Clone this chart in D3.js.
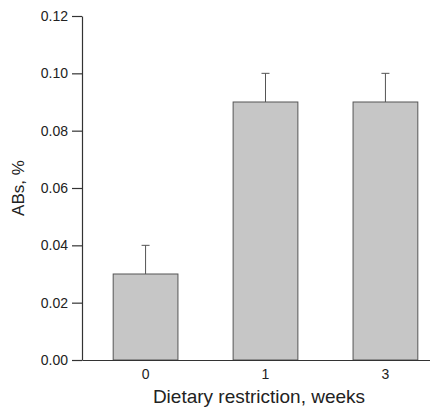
<!DOCTYPE html>
<html>
<head>
<meta charset="utf-8">
<script src="https://cdn.jsdelivr.net/npm/d3@7"></script>
<style>
  body { margin: 0; background: #fff; }
  text { font-family: "Liberation Sans Narrow", "Arial Narrow", "Liberation Sans", sans-serif; fill: #222; }
</style>
</head>
<body>
<div id="my_dataviz"></div>
<script>
// data
var weeks = ["0", "1", "3"];
var abs = [0.03, 0.09, 0.09];
var absErr = [0.01, 0.01, 0.01];
var yTicks = [0, 0.02, 0.04, 0.06, 0.08, 0.10, 0.12];

var data = weeks.map(function(w, i) { return {week: w, value: abs[i], err: absErr[i]}; });

// set the dimensions and margins of the graph
var margin = {top: 16, right: 0, bottom: 49, left: 82},
    width = 430 - margin.left - margin.right,
    height = 409 - margin.top - margin.bottom;

var svg = d3.select("#my_dataviz")
  .append("svg")
    .attr("width", width + margin.left + margin.right)
    .attr("height", height + margin.top + margin.bottom)
  .append("g")
    .attr("transform", "translate(" + margin.left + "," + margin.top + ")");

// X scale (bars run past the right edge a bit, like the scan)
var x = d3.scaleBand()
  .domain(weeks)
  .range([0, 367])
  .paddingInner(0.46)
  .paddingOuter(0.26);

var y = d3.scaleLinear()
  .domain([0, 0.12])
  .range([height, 0]);

// bars
svg.selectAll("rect.bar")
  .data(data)
  .enter()
  .append("rect")
    .attr("class", "bar")
    .attr("x", function(d) { return x(d.week); })
    .attr("y", function(d) { return y(d.value); })
    .attr("width", x.bandwidth())
    .attr("height", function(d) { return height - y(d.value); })
    .attr("fill", "#c6c6c6")
    .attr("stroke", "#555")
    .attr("stroke-width", 1);

// error bars (upper only)
svg.selectAll("line.err")
  .data(data)
  .enter()
  .append("line")
    .attr("class", "err")
    .attr("x1", function(d) { return x(d.week) + x.bandwidth() / 2; })
    .attr("x2", function(d) { return x(d.week) + x.bandwidth() / 2; })
    .attr("y1", function(d) { return y(d.value); })
    .attr("y2", function(d) { return y(d.value + d.err); })
    .attr("stroke", "#555")
    .attr("stroke-width", 1);

svg.selectAll("line.cap")
  .data(data)
  .enter()
  .append("line")
    .attr("class", "cap")
    .attr("x1", function(d) { return x(d.week) + x.bandwidth() / 2 - 4; })
    .attr("x2", function(d) { return x(d.week) + x.bandwidth() / 2 + 4; })
    .attr("y1", function(d) { return y(d.value + d.err); })
    .attr("y2", function(d) { return y(d.value + d.err); })
    .attr("stroke", "#555")
    .attr("stroke-width", 1);

// Y axis
var yAxis = svg.append("g")
  .call(d3.axisLeft(y).tickValues(yTicks).tickFormat(d3.format(".2f")).tickSize(10).tickSizeOuter(0).tickPadding(4));
yAxis.selectAll("text").style("font-size", "14px");

// X axis
var xAxis = svg.append("g")
  .attr("transform", "translate(0," + height + ")")
  .call(d3.axisBottom(x).tickSize(0).tickSizeOuter(0).tickPadding(9));
xAxis.selectAll("text").style("font-size", "14px");

svg.selectAll(".domain, .tick line").attr("stroke", "#333").attr("stroke-width", 1.2);

// axis titles
svg.append("text")
  .attr("x", 259 - margin.left)
  .attr("y", height + 43)
  .attr("text-anchor", "middle")
  .style("font-size", "19px")
  .text("Dietary restriction, weeks");

svg.append("text")
  .attr("transform", "translate(" + (24 - margin.left) + "," + y(0.06) + ") rotate(-90)")
  .attr("text-anchor", "middle")
  .style("font-size", "17px")
  .text("ABs, %");
</script>
</body>
</html>
